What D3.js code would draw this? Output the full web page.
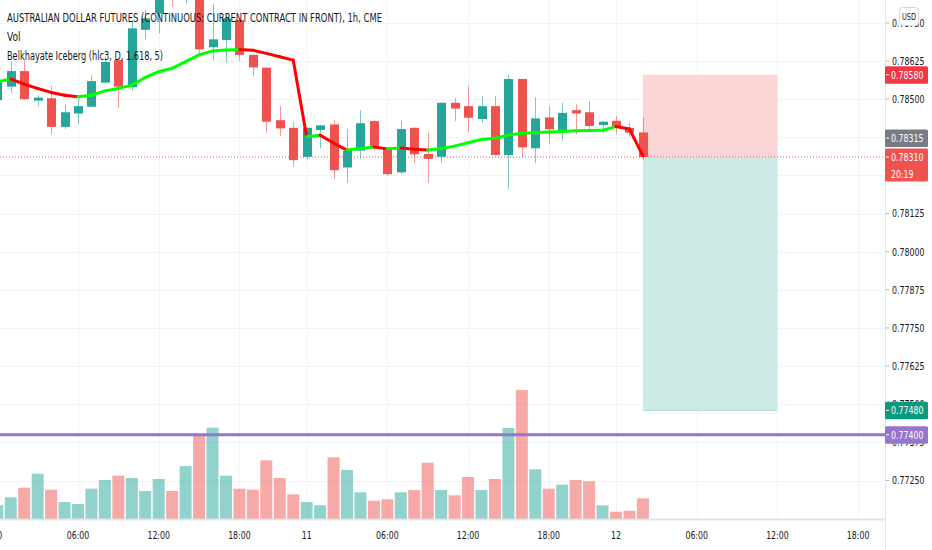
<!DOCTYPE html>
<html>
<head>
<meta charset="utf-8">
<script src="https://cdn.jsdelivr.net/npm/d3@7"></script>
<style>
  body { margin: 0; background: #fff; }
  text { font-family: "Liberation Sans Narrow", "DejaVu Sans Condensed", "Roboto", sans-serif; }
</style>
</head>
<body>
<script>
// hourly bars (index 0 = 00:00 on the 10th)
var open = [0.78497, 0.78541, 0.78592, 0.78495, 0.78503, 0.78409, 0.78453, 0.78475, 0.78554, 0.78628,
  0.78539, 0.78727, 0.78781, 0.78956, 0.78841, 0.78841, 0.78670, 0.78694, 0.78759, 0.78645,
  0.78603, 0.78431, 0.78406, 0.78311, 0.78399, 0.78417, 0.78276, 0.78331, 0.78428, 0.78339,
  0.78260, 0.78406, 0.78320, 0.78311, 0.78488, 0.78477, 0.78435, 0.78477, 0.78317, 0.78566,
  0.78339, 0.78440, 0.78399, 0.78464, 0.78457, 0.78415, 0.78429, 0.78406, 0.78391];
var high = [0.78569, 0.78623, 0.78628, 0.78513, 0.78543, 0.78481, 0.78497, 0.78579, 0.78639, 0.78631,
  0.78759, 0.78792, 0.78907, 0.78989, 0.78960, 0.78858, 0.78812, 0.78776, 0.78766, 0.78648,
  0.78606, 0.78477, 0.78426, 0.78408, 0.78416, 0.78431, 0.78402, 0.78464, 0.78431, 0.78341,
  0.78429, 0.78408, 0.78388, 0.78490, 0.78503, 0.78543, 0.78510, 0.78510, 0.78579, 0.78568,
  0.78506, 0.78477, 0.78488, 0.78483, 0.78492, 0.78428, 0.78445, 0.78423, 0.78439];
var low = [0.78484, 0.78519, 0.78498, 0.78477, 0.78385, 0.78401, 0.78418, 0.78475, 0.78552, 0.78470,
  0.78528, 0.78696, 0.78716, 0.78803, 0.78814, 0.78645, 0.78628, 0.78619, 0.78625, 0.78576,
  0.78390, 0.78379, 0.78278, 0.78303, 0.78339, 0.78240, 0.78226, 0.78303, 0.78331, 0.78248,
  0.78254, 0.78290, 0.78226, 0.78290, 0.78428, 0.78390, 0.78424, 0.78315, 0.78204, 0.78311,
  0.78290, 0.78352, 0.78364, 0.78385, 0.78402, 0.78388, 0.78385, 0.78375, 0.78300];
var close = [0.78556, 0.78592, 0.78500, 0.78505, 0.78409, 0.78457, 0.78477, 0.78559, 0.78622, 0.78541,
  0.78732, 0.78765, 0.78874, 0.78858, 0.78940, 0.78663, 0.78696, 0.78765, 0.78645, 0.78604,
  0.78426, 0.78404, 0.78300, 0.78406, 0.78414, 0.78267, 0.78330, 0.78421, 0.78344, 0.78254,
  0.78402, 0.78319, 0.78304, 0.78488, 0.78469, 0.78439, 0.78477, 0.78317, 0.78566, 0.78342,
  0.78437, 0.78401, 0.78455, 0.78453, 0.78412, 0.78426, 0.78408, 0.78390, 0.78310];
var volume = [274, 434, 626, 906, 586, 340, 300, 606, 780, 866,
  820, 560, 800, 560, 1060, 1700, 1826, 866, 606, 586,
  1174, 820, 494, 340, 274, 1234, 980, 534, 366, 394,
  534, 580, 1126, 580, 474, 840, 580, 800, 1820, 2580,
  994, 606, 686, 780, 754, 274, 146, 166, 414];
// Belkhayate Iceberg line
var iceberg = [0.78557, 0.78566, 0.78549, 0.78535, 0.78522, 0.78513, 0.78508, 0.78513, 0.78527, 0.78535,
  0.78546, 0.78571, 0.78590, 0.78601, 0.78623, 0.78645, 0.78658, 0.78661, 0.78663, 0.78660,
  0.78650, 0.78639, 0.78628, 0.78377, 0.78382, 0.78356, 0.78333, 0.78338, 0.78343, 0.78337,
  0.78340, 0.78336, 0.78333, 0.78338, 0.78346, 0.78357, 0.78368, 0.78372, 0.78382, 0.78388,
  0.78390, 0.78392, 0.78394, 0.78396, 0.78397, 0.78398, 0.78410, 0.78402, 0.78315];

var priceTicks = [0.78750, 0.78625, 0.78500, 0.78375, 0.78250, 0.78125, 0.78000,
  0.77875, 0.77750, 0.77625, 0.77500, 0.77375, 0.77250];
var timeTickIndex = [0, 6, 12, 18, 23, 29, 35, 41, 46, 52, 58, 64];
var timeTickLabels = ["10", "06:00", "12:00", "18:00", "11", "06:00", "12:00", "18:00", "12", "06:00", "12:00", "18:00"];

// short position drawing + horizontal level
var entryIndex = 48, exitIndex = 58;
var stopPrice = 0.78580, targetPrice = 0.77480, levelPrice = 0.77400;
var countdown = "20:19";

var width = 932, height = 550,
  plotRight = 885, plotBottom = 519;

var teal = "#26a69a", red = "#ef5350";

var svg = d3.select("body").append("svg")
  .attr("width", width)
  .attr("height", height);

var x = d3.scaleLinear().domain([0, 64]).range([-2.7, 858.1]);
var y = d3.scaleLinear().domain([0.77250, 0.78625]).range([480.5, 61]);
var yVol = d3.scaleLinear().domain([0, 3000]).range([plotBottom, 369]);
var fmt = d3.format(".5f");

// the scale font is narrow: digits ~5px, dots and colons ~2.5px
function narrowWidth(s) {
  return s.split("").reduce(function(w, c) { return w + (/[0-9]/.test(c) ? 5 : 2.5); }, 0);
}

var plot = svg.append("g");

// grid
plot.selectAll(".hgrid").data(priceTicks).enter().append("line")
  .attr("x1", 0).attr("x2", plotRight)
  .attr("y1", function(d) { return Math.round(y(d)) + 0.5; })
  .attr("y2", function(d) { return Math.round(y(d)) + 0.5; })
  .attr("stroke", "#f0f3fa");
plot.selectAll(".vgrid").data(timeTickIndex).enter().append("line")
  .attr("x1", function(d) { return Math.round(x(d)) + 0.5; })
  .attr("x2", function(d) { return Math.round(x(d)) + 0.5; })
  .attr("y1", 0).attr("y2", plotBottom)
  .attr("stroke", "#f0f3fa");

// position boxes
plot.append("rect")
  .attr("x", x(entryIndex)).attr("width", x(exitIndex) - x(entryIndex))
  .attr("y", y(stopPrice)).attr("height", y(close[entryIndex]) - y(stopPrice))
  .attr("fill", "#fcd6d6");
plot.append("rect")
  .attr("x", x(entryIndex)).attr("width", x(exitIndex) - x(entryIndex))
  .attr("y", y(close[entryIndex])).attr("height", y(targetPrice) - y(close[entryIndex]))
  .attr("fill", "#cdeae7");
plot.append("line")
  .attr("x1", x(entryIndex)).attr("x2", x(exitIndex))
  .attr("y1", y(targetPrice)).attr("y2", y(targetPrice))
  .attr("stroke", "#a9d9d3");

// volume
var bars = d3.range(close.length);
plot.selectAll(".vol").data(bars).enter().append("rect")
  .attr("x", function(i) { return x(i) - 6; })
  .attr("width", 12)
  .attr("y", function(i) { return yVol(volume[i]); })
  .attr("height", function(i) { return plotBottom - yVol(volume[i]); })
  .attr("fill", function(i) { return close[i] >= open[i] ? teal : red; })
  .attr("fill-opacity", 0.5);

// last price dotted line
plot.append("line")
  .attr("x1", 0).attr("x2", plotRight)
  .attr("y1", y(close[close.length - 1])).attr("y2", y(close[close.length - 1]))
  .attr("stroke", red).attr("stroke-dasharray", "1,2");

// candles
var candle = plot.selectAll(".candle").data(bars).enter().append("g");
candle.append("line")
  .attr("x1", function(i) { return Math.round(x(i)) + 0.5; })
  .attr("x2", function(i) { return Math.round(x(i)) + 0.5; })
  .attr("y1", function(i) { return y(high[i]); })
  .attr("y2", function(i) { return y(low[i]); })
  .attr("stroke", function(i) { return close[i] >= open[i] ? teal : red; })
  .attr("stroke-opacity", 0.6);
candle.append("rect")
  .attr("x", function(i) { return Math.round(x(i)) - 4; })
  .attr("width", 9)
  .attr("y", function(i) { return y(Math.max(open[i], close[i])); })
  .attr("height", function(i) { return Math.max(1, Math.abs(y(open[i]) - y(close[i]))); })
  .attr("fill", function(i) { return close[i] >= open[i] ? teal : red; });

// iceberg line, green when rising, red when falling
plot.selectAll(".ice").data(bars.slice(1)).enter().append("line")
  .attr("x1", function(i) { return x(i - 1); })
  .attr("x2", function(i) { return x(i); })
  .attr("y1", function(i) { return y(iceberg[i - 1]); })
  .attr("y2", function(i) { return y(iceberg[i]); })
  .attr("stroke", function(i) { return iceberg[i] >= iceberg[i - 1] ? "#00ff00" : "#ff0000"; })
  .attr("stroke-width", 3)
  .attr("stroke-linecap", "round");

// horizontal level
plot.append("line")
  .attr("x1", 0).attr("x2", plotRight)
  .attr("y1", y(levelPrice)).attr("y2", y(levelPrice))
  .attr("stroke", "#9575cd").attr("stroke-width", 3);

// axes frame
svg.append("rect")
  .attr("x", plotRight).attr("y", 0).attr("width", width - plotRight).attr("height", height)
  .attr("fill", "#fff");
svg.append("line")
  .attr("x1", plotRight + 0.5).attr("x2", plotRight + 0.5)
  .attr("y1", 0).attr("y2", height)
  .attr("stroke", "#e0e3eb");
svg.append("line")
  .attr("x1", 0).attr("x2", plotRight)
  .attr("y1", plotBottom + 0.5).attr("y2", plotBottom + 0.5)
  .attr("stroke", "#e0e3eb").attr("stroke-width", 2);

// price axis
var pAxis = svg.selectAll(".ptick").data(priceTicks).enter().append("g")
  .attr("transform", function(d) { return "translate(" + plotRight + "," + y(d) + ")"; });
pAxis.append("line").attr("x1", 1).attr("x2", 4).attr("stroke", "#b2b5be");
pAxis.append("text")
  .attr("x", 7).attr("dy", "0.35em")
  .attr("font-size", 11).attr("fill", "#131722")
  .attr("textLength", function(d) { return narrowWidth(fmt(d)); })
  .attr("lengthAdjust", "spacingAndGlyphs")
  .text(fmt);

// time axis
svg.selectAll(".ttick").data(timeTickIndex).enter().append("text")
  .attr("x", function(d) { return x(d); })
  .attr("y", 539)
  .attr("text-anchor", "middle")
  .attr("font-size", 11).attr("fill", "#131722")
  .attr("textLength", function(d, i) { return narrowWidth(timeTickLabels[i]); })
  .attr("lengthAdjust", "spacingAndGlyphs")
  .text(function(d, i) { return timeTickLabels[i]; });

// price labels on the scale
function priceLabel(cy, h, color, lines) {
  var g = svg.append("g").attr("transform", "translate(" + plotRight + "," + cy + ")");
  g.append("rect").attr("x", 0).attr("y", -8.5).attr("width", 43).attr("height", h)
    .attr("rx", 1.5).attr("fill", color);
  g.append("line").attr("x1", 1).attr("x2", 4).attr("stroke", "#fff");
  lines.forEach(function(t, k) {
    g.append("text").attr("x", 6).attr("y", k * 17).attr("dy", "0.35em")
      .attr("font-size", 11).attr("fill", "#fff")
      .attr("textLength", narrowWidth(t)).attr("lengthAdjust", "spacingAndGlyphs")
      .text(t);
  });
}
var lastY = y(close[close.length - 1]);
priceLabel(y(stopPrice), 17.5, "#f23645", [fmt(stopPrice)]);
priceLabel(lastY - 8.5 - 1 - 8.5 - 1, 17.5, "#787b86", [fmt(iceberg[iceberg.length - 1])]);
priceLabel(lastY, 33, red, [fmt(close[close.length - 1]), countdown]);
priceLabel(y(targetPrice), 17.5, "#089981", [fmt(targetPrice)]);
priceLabel(y(levelPrice), 17.5, "#9575cd", [fmt(levelPrice)]);

// currency badge
svg.append("rect").attr("x", 899.5).attr("y", 7.5).attr("width", 19).attr("height", 18)
  .attr("rx", 3).attr("fill", "#fff").attr("stroke", "#d1d4dc");
svg.append("text").attr("x", 909).attr("y", 20).attr("text-anchor", "middle")
  .attr("font-size", 8).attr("fill", "#131722")
  .attr("textLength", 14).attr("lengthAdjust", "spacingAndGlyphs").text("USD");

// legend
svg.append("text").attr("x", 7).attr("y", 22).attr("font-size", 12.5).attr("fill", "#131722")
  .attr("textLength", 375).attr("lengthAdjust", "spacingAndGlyphs")
  .text("AUSTRALIAN DOLLAR FUTURES (CONTINUOUS: CURRENT CONTRACT IN FRONT), 1h, CME");
svg.append("text").attr("x", 7).attr("y", 41).attr("font-size", 12).attr("fill", "#131722")
  .attr("textLength", 13.5).attr("lengthAdjust", "spacingAndGlyphs")
  .text("Vol");
svg.append("text").attr("x", 7).attr("y", 59.5).attr("font-size", 12).attr("fill", "#131722")
  .attr("textLength", 156).attr("lengthAdjust", "spacingAndGlyphs")
  .text("Belkhayate Iceberg (hlc3, D, 1.618, 5)");
</script>
</body>
</html>
